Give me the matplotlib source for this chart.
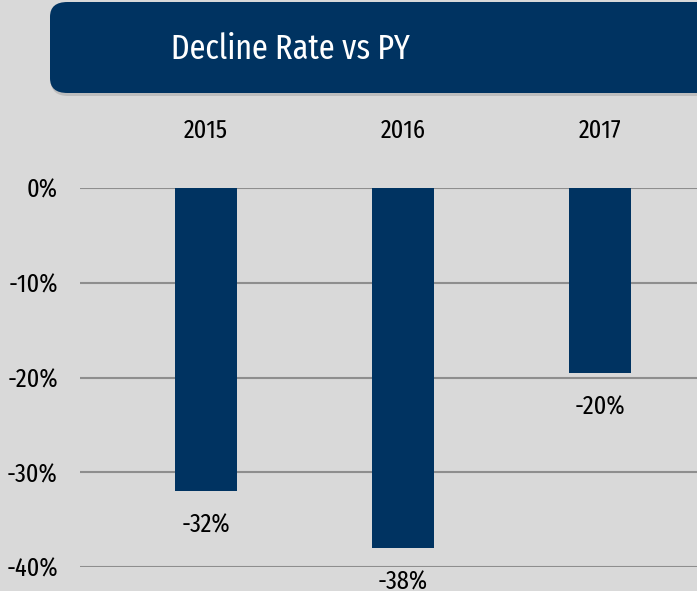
import matplotlib
matplotlib.use("Agg")
import matplotlib.pyplot as plt
from matplotlib.patches import FancyBboxPatch
from matplotlib.ticker import FuncFormatter

years = ["2015", "2016", "2017"]
decline = [-32.0, -38.0, -19.5]
labels = ["-32%", "-38%", "-20%"]
yticks = [0, -10, -20, -30, -40]

FONT = ["Fira Sans Extra Condensed", "Roboto Condensed", "Carlito", "DejaVu Sans"]
plt.rcParams["font.family"] = FONT
plt.rcParams["font.weight"] = "normal"

BG = "#d9d9d9"
NAVY = "#003361"

fig = plt.figure(figsize=(6.97, 5.91), dpi=100, facecolor=BG)

# Title box
shadow = FancyBboxPatch((51 / 697, 1 - 96 / 591), 700 / 697, 92 / 591,
                        boxstyle="round,pad=0,rounding_size=0.025",
                        transform=fig.transFigure, facecolor="#bdbdbd",
                        edgecolor="none", zorder=1)
box = FancyBboxPatch((50 / 697, 1 - 93 / 591), 700 / 697, 91 / 591,
                     boxstyle="round,pad=0,rounding_size=0.025",
                     transform=fig.transFigure, facecolor=NAVY,
                     edgecolor="none", zorder=2)
fig.patches.extend([shadow, box])
fig.text(290 / 697, 1 - 49 / 591, "Decline Rate vs PY", color="white",
         fontsize=25, ha="center", va="center", zorder=3)

left, right = 80 / 697, 1.0
bottom, top = 1 - 567 / 591, 1 - 188 / 591
ax = fig.add_axes([left, bottom, right - left, top - bottom])
ax.set_facecolor(BG)
ax.patch.set_alpha(0)

x = list(range(len(years)))
bars = ax.bar(x, decline, width=0.315, color=NAVY, zorder=3)

for xi, v, lab in zip(x, decline, labels):
    ax.annotate(lab, xy=(xi, v), xytext=(0, -24.5), textcoords="offset points",
                ha="center", va="center", fontsize=19, color="black",
                annotation_clip=False)

ax.set_ylim(-40, 0)
ax.set_xlim(-0.6396, 2.4924)
ax.set_yticks(yticks)
ax.yaxis.set_major_formatter(FuncFormatter(lambda v, p: f"{int(round(v))}%"))
ax.grid(axis="y", color="#8e8e8e", linewidth=1.5, zorder=0)
ax.set_axisbelow(True)

ax.xaxis.tick_top()
ax.set_xticks(x)
ax.set_xticklabels(years)
ax.tick_params(axis="x", length=0, pad=32, labelsize=19)
ax.tick_params(axis="y", length=0, pad=16, labelsize=19)
for s in ax.spines.values():
    s.set_visible(False)

fig.savefig("out.png", dpi=100, facecolor=BG)
